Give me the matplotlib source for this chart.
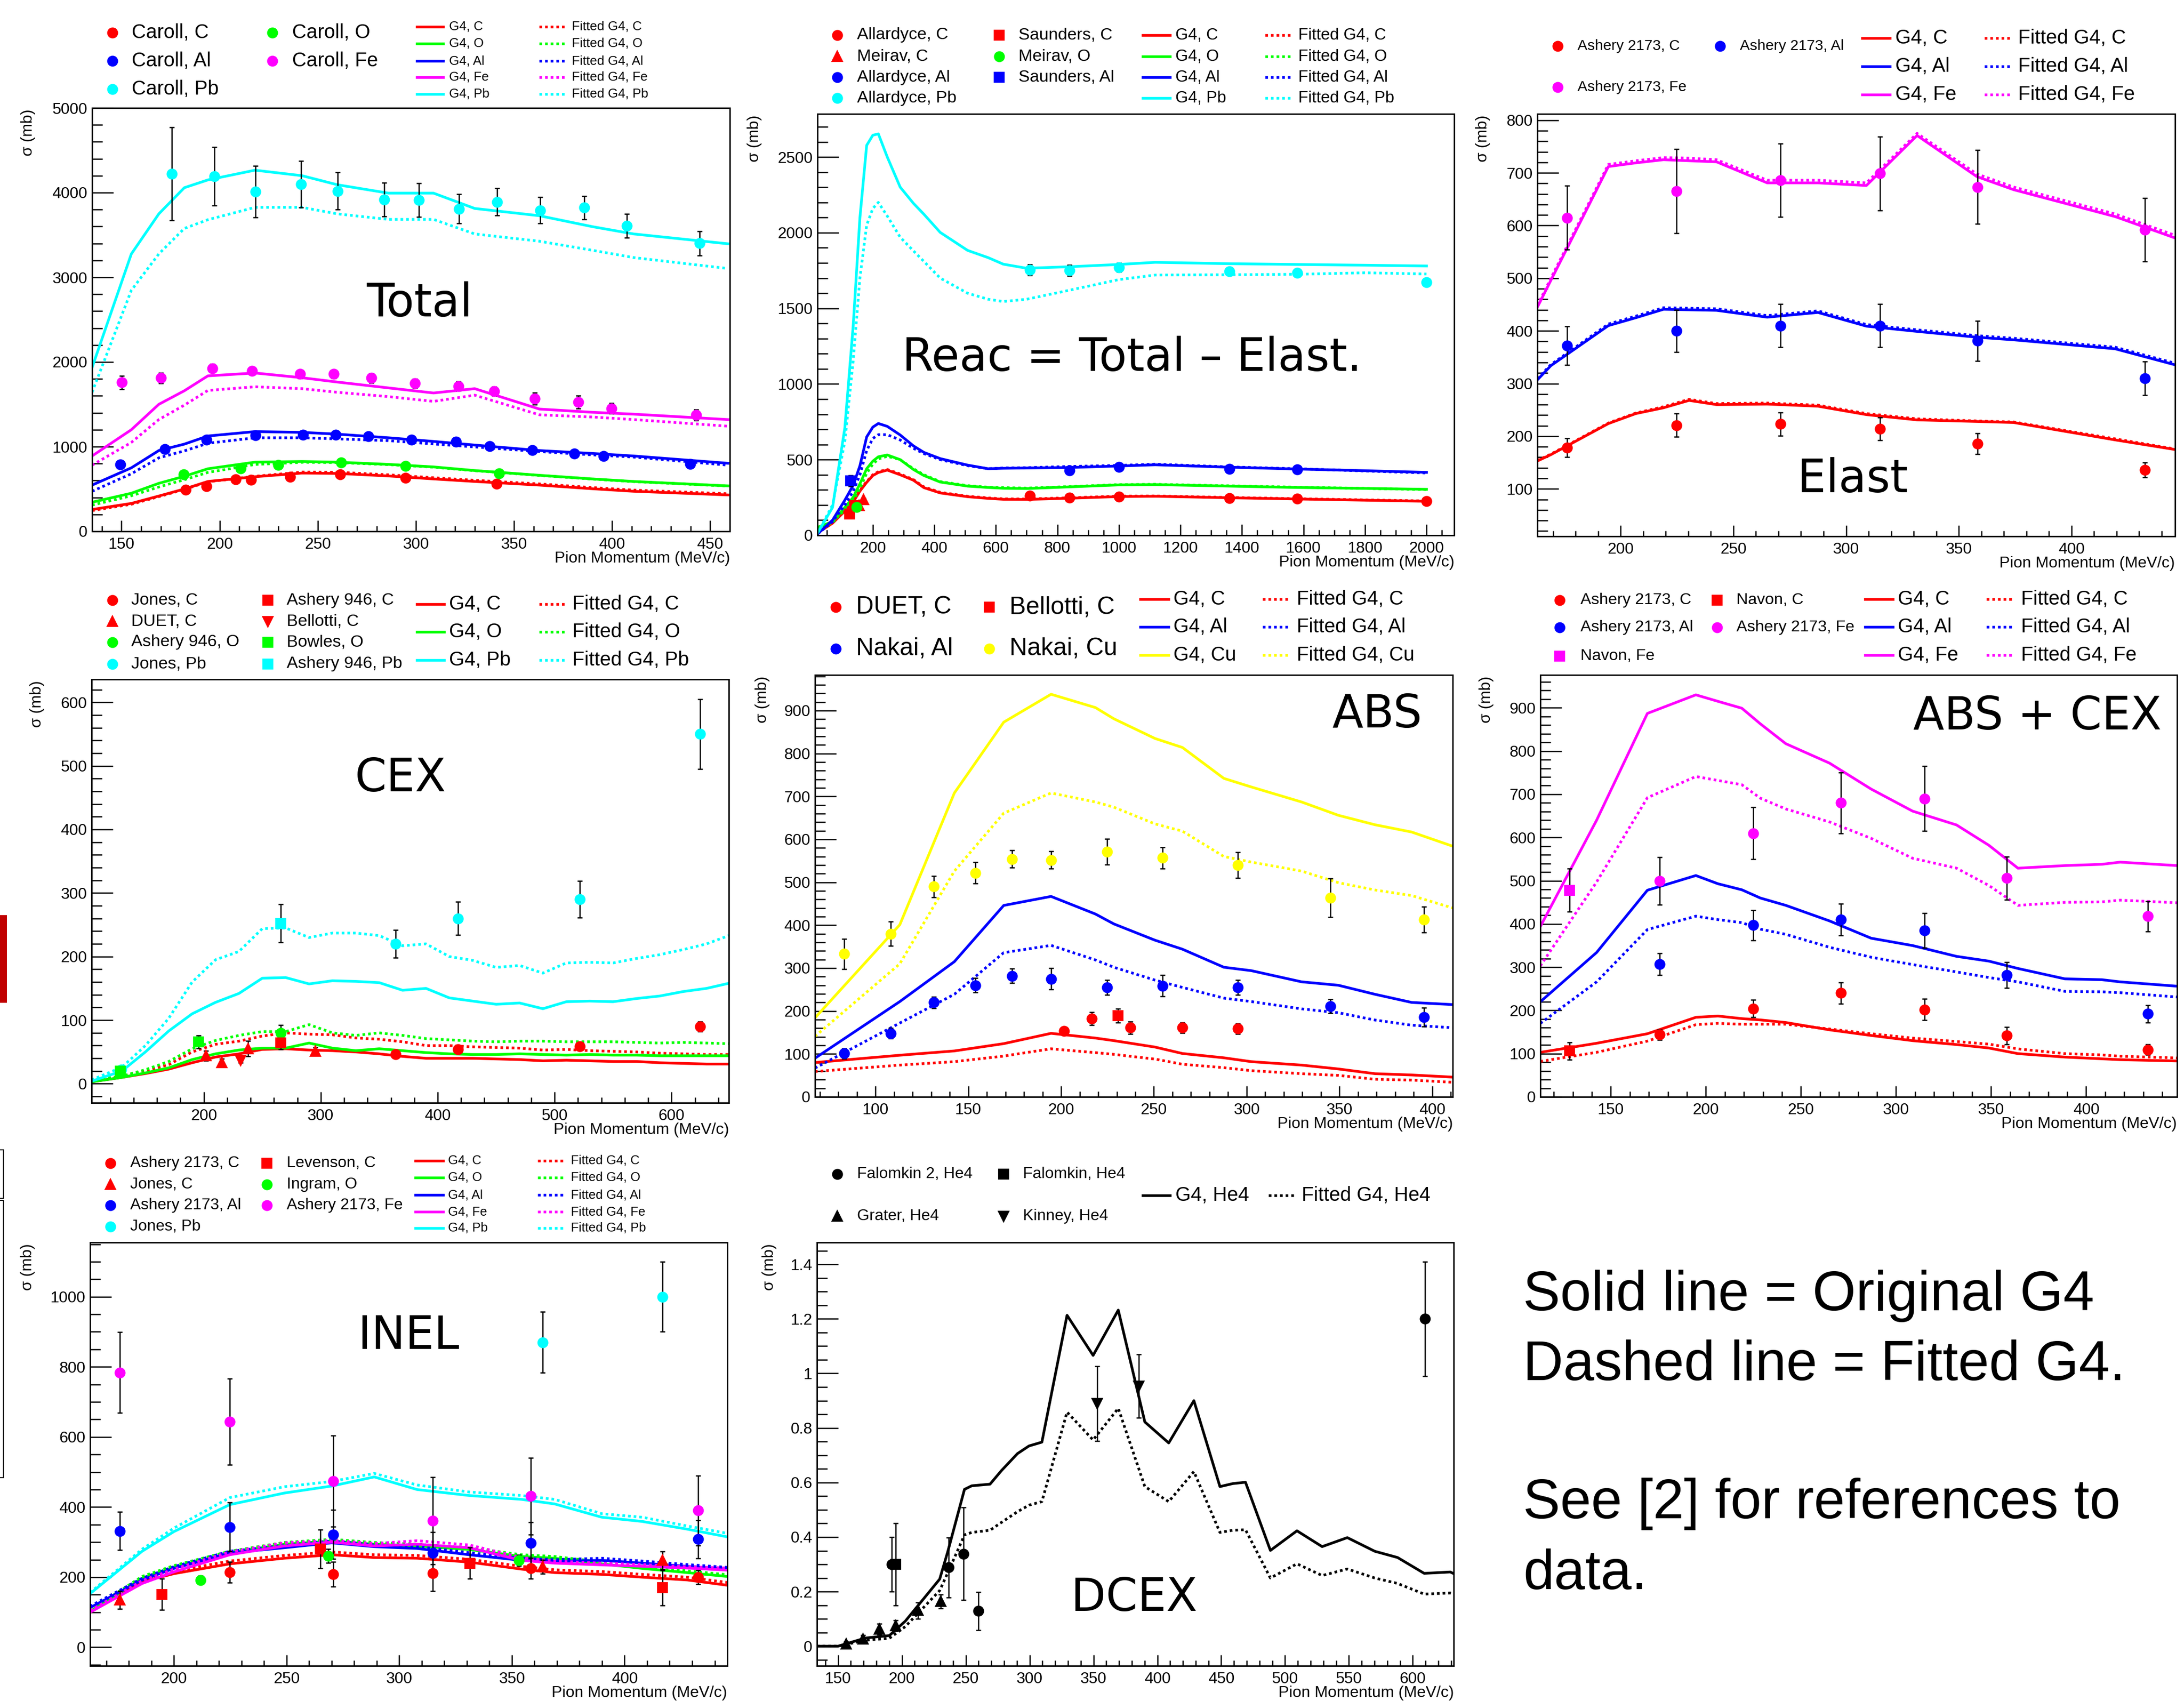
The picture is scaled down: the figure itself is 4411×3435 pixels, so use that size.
import matplotlib
matplotlib.use("Agg")
import matplotlib.pyplot as plt
from matplotlib.lines import Line2D
from matplotlib.patches import Rectangle
from matplotlib.ticker import MultipleLocator, FuncFormatter

W, H = 4411, 3435

RED, GREEN, BLUE = "#ff0000", "#00ff00", "#0000ff"
MAGENTA, CYAN, YELLOW, BLACK = "#ff00ff", "#00ffff", "#ffff00", "#000000"

# ---------------- Total ----------------
TOT_X = [135, 155, 169, 182, 194, 218, 242, 260, 286, 309, 330, 363, 390, 411, 459]
TOT_G4_C = [258, 330, 417, 500, 589, 645, 688, 684, 654, 619, 589, 546, 503, 473, 430]
TOT_FIT_C = [245, 320, 410, 495, 585, 650, 700, 698, 668, 633, 603, 560, 517, 487, 444]
TOT_G4_O = [344, 450, 567, 650, 739, 817, 825, 817, 791, 761, 718, 662, 619, 589, 537]
TOT_FIT_O = [310, 420, 524, 610, 696, 790, 815, 812, 788, 758, 716, 660, 617, 587, 535]
TOT_G4_AL = [546, 750, 954, 1030, 1126, 1178, 1169, 1148, 1105, 1062, 1019, 954, 920, 890, 804]
TOT_FIT_AL = [473, 680, 868, 950, 1040, 1105, 1105, 1092, 1071, 1032, 997, 942, 903, 877, 782]
TOT_G4_FE = [890, 1200, 1500, 1660, 1836, 1870, 1814, 1763, 1694, 1634, 1685, 1444, 1406, 1384, 1320]
TOT_FIT_FE = [782, 1050, 1320, 1490, 1664, 1707, 1685, 1642, 1591, 1535, 1608, 1376, 1350, 1320, 1242]
TOT_G4_PB = [1935, 3276, 3749, 4058, 4150, 4265, 4200, 4093, 3994, 3994, 3813, 3727, 3598, 3512, 3396]
TOT_FIT_PB = [1642, 2846, 3276, 3577, 3680, 3826, 3826, 3749, 3684, 3684, 3512, 3426, 3319, 3233, 3104]

CAROLL_C_X = [182.8, 193.2, 208.2, 216.1, 235.9, 261.5, 294.6, 341.2]
CAROLL_C_Y = [494, 533, 615, 606, 641, 675, 632, 563]
CAROLL_C_E = [15, 15, 15, 15, 15, 15, 15, 15]
CAROLL_O_X = [181.6, 210.8, 229.9, 262.0, 294.6, 342.4]
CAROLL_O_Y = [675, 744, 782, 813, 770, 684]
CAROLL_O_E = [15, 15, 15, 15, 15, 15]
CAROLL_AL_X = [149.5, 172.2, 193.4, 218.3, 242.4, 259.1, 275.8, 297.7, 320.4, 337.5, 359.3, 380.7, 395.7, 439.9]
CAROLL_AL_Y = [791, 972, 1083, 1135, 1139, 1139, 1122, 1083, 1058, 1006, 959, 916, 886, 795]
CAROLL_AL_E = [20] * 14
CAROLL_FE_X = [150.2, 170.0, 196.3, 216.4, 241.0, 258.1, 277.4, 299.4, 321.6, 340.0, 360.5, 382.7, 399.8, 442.8]
CAROLL_FE_Y = [1758, 1810, 1926, 1896, 1857, 1857, 1810, 1746, 1715, 1655, 1569, 1526, 1453, 1376]
CAROLL_FE_E = [80, 60, 50, 40, 50, 50, 55, 55, 55, 55, 70, 75, 60, 65]
CAROLL_PB_X = [175.6, 197.3, 218.3, 241.5, 260.1, 284.0, 301.6, 321.9, 341.4, 363.4, 385.8, 407.5, 444.7]
CAROLL_PB_Y = [4222, 4192, 4011, 4097, 4020, 3917, 3912, 3809, 3891, 3792, 3822, 3607, 3401]
CAROLL_PB_E = [550, 344, 305, 275, 220, 198, 198, 172, 160, 157, 137, 142, 142]

# ---------------- Reac ----------------
REAC_X = [21, 69, 109, 136, 158, 180, 200, 218, 247, 289, 332, 366, 419, 508, 575, 624, 700, 840,
          1000, 1118, 1360, 1580, 1800, 2000]
REAC_G4_C = [17, 80, 160, 220, 292, 350, 395, 415, 431, 400, 364, 315, 280, 255, 244, 238, 237, 245,
             256, 258, 248, 240, 232, 225]
REAC_FIT_C = [17, 82, 165, 225, 298, 355, 400, 420, 435, 405, 368, 320, 284, 258, 247, 241, 240, 248,
              259, 260, 250, 242, 234, 227]
REAC_G4_O = [53, 90, 184, 250, 340, 440, 490, 519, 531, 500, 435, 395, 352, 325, 316, 311, 309, 320,
             333, 335, 325, 316, 310, 304]
REAC_FIT_O = [40, 85, 170, 230, 310, 410, 470, 505, 522, 500, 440, 400, 355, 328, 318, 315, 312, 322,
              335, 337, 327, 318, 310, 302]
REAC_G4_AL = [10, 100, 232, 330, 459, 650, 715, 739, 720, 663, 591, 548, 507, 464, 440, 443, 445, 448,
              458, 466, 450, 438, 427, 416]
REAC_FIT_AL = [10, 90, 200, 290, 400, 560, 640, 665, 665, 630, 575, 540, 500, 460, 440, 445, 447, 455,
               462, 470, 452, 440, 425, 412]
REAC_G4_PB = [17, 184, 710, 1380, 2098, 2577, 2644, 2653, 2500, 2301, 2194, 2122, 2002, 1883, 1835, 1792,
              1765, 1775, 1790, 1804, 1795, 1790, 1785, 1780]
REAC_FIT_PB = [17, 200, 620, 1150, 1700, 2050, 2160, 2200, 2110, 1970, 1880, 1810, 1700, 1600, 1560, 1545,
               1560, 1620, 1690, 1720, 1722, 1725, 1735, 1727]

ALLARDYCE_C_X = [711, 840, 1000, 1360, 1580, 2000]
ALLARDYCE_C_Y = [263, 249, 256, 246, 242, 225]
ALLARDYCE_C_E = [8, 8, 8, 8, 8, 8]
MEIRAV_C_X = [155, 170]
MEIRAV_C_Y = [196, 237]
MEIRAV_C_E = [10, 10]
ALLARDYCE_AL_X = [840, 1000, 1360, 1580]
ALLARDYCE_AL_Y = [428, 452, 440, 435]
ALLARDYCE_AL_E = [10, 10, 10, 10]
ALLARDYCE_PB_X = [711, 840, 1000, 1360, 1580, 2000]
ALLARDYCE_PB_Y = [1754, 1751, 1770, 1744, 1734, 1672]
ALLARDYCE_PB_E = [35, 35, 30, 10, 10, 10]
SAUNDERS_C_X = [124, 140]
SAUNDERS_C_Y = [141, 196]
SAUNDERS_C_E = [10, 10]
MEIRAV_O_X = [147]
MEIRAV_O_Y = [185]
MEIRAV_O_E = [10]
SAUNDERS_AL_X = [128]
SAUNDERS_AL_Y = [359]
SAUNDERS_AL_E = [36]

# ---------------- Elast ----------------
ELA_X = [163, 169, 194.5, 206.7, 219, 230.3, 242.5, 265, 287.5, 309, 331.5, 358, 374.4, 419.4, 445.6]
ELA_G4_C = [153, 165, 224, 243, 254, 268, 260, 261, 257, 241, 231, 228, 226, 193, 175]
ELA_FIT_C = [154, 166, 225, 244, 256, 270, 262, 263, 259, 243, 233, 229, 227, 195, 176]
ELA_G4_AL = [307, 334, 410, 425, 441, 440, 439, 426, 435, 409, 399, 388, 383, 366, 336]
ELA_FIT_AL = [309, 336, 413, 428, 444, 443, 442, 429, 438, 412, 402, 391, 386, 369, 339]
ELA_G4_FE = [445, 496, 712, 719, 725, 723, 721, 681, 681, 676, 771, 693, 668, 617, 577]
ELA_FIT_FE = [448, 500, 716, 723, 729, 728, 725, 686, 686, 681, 775, 698, 673, 622, 582]

ASH_ELA_X = [176.1, 224.7, 270.8, 315.1, 358.3, 432.5]
ASH_ELA_C_Y = [178, 221, 223, 214, 186, 136]
ASH_ELA_C_E = [18, 22, 22, 22, 20, 14]
ASH_ELA_AL_Y = [372, 400, 410, 410, 381, 310]
ASH_ELA_AL_E = [37, 40, 41, 41, 38, 32]
ASH_ELA_FE_Y = [615, 665, 686, 699, 673, 592]
ASH_ELA_FE_E = [61, 80, 70, 70, 70, 60]

# ---------------- CEX ----------------
CEX_X = [104, 130, 150, 170, 190, 210, 230, 250, 270, 290, 310, 330, 350, 370, 390, 410, 430, 450,
         470, 490, 510, 530, 550, 570, 590, 610, 630, 649]
CEX_G4_C = [3, 10, 16, 23, 33, 42, 47, 54, 55, 53, 52, 50, 47, 43, 40, 40, 40, 39, 38, 36, 37, 36,
            35, 35, 33, 32, 31, 31]
CEX_FIT_C = [5, 12, 20, 30, 50, 62, 67, 75, 80, 78, 77, 72, 70, 66, 60, 60, 58, 57, 56, 53, 54, 52,
             51, 50, 48, 47, 46, 46]
CEX_G4_O = [3, 10, 17, 25, 38, 47, 53, 56, 56, 64, 56, 52, 55, 52, 49, 47, 46, 46, 47, 46, 45, 46,
            45, 45, 44, 44, 44, 44]
CEX_FIT_O = [5, 12, 22, 35, 55, 68, 76, 82, 82, 93, 80, 76, 80, 76, 71, 69, 67, 66, 67, 67, 66, 66,
             66, 65, 64, 65, 64, 63]
CEX_G4_PB = [4, 20, 50, 83, 110, 128, 142, 166, 167, 157, 162, 161, 159, 147, 150, 135, 130, 125,
             127, 118, 129, 130, 129, 134, 138, 145, 150, 158]
CEX_FIT_PB = [6, 26, 60, 103, 160, 195, 208, 244, 245, 230, 237, 237, 233, 217, 220, 200, 194, 183,
              186, 174, 190, 191, 190, 197, 203, 211, 220, 233]

JONES_C_X = [364.1, 417.2, 521.4, 624.3]
JONES_C_Y = [46, 54, 59, 90]
JONES_C_E = [4, 4, 4, 8]
DUET_C_X = [202.0, 215.4, 237.7, 295.6]
DUET_C_Y = [44, 33, 55, 51]
DUET_C_E = [8, 6, 12, 6]
ASH946_O_X = [265.7]
ASH946_O_Y = [80]
ASH946_O_E = [12]
JONES_PB_X = [129.5, 364.1, 417.2, 521.4, 624.3]
JONES_PB_Y = [22, 220, 260, 290, 550]
JONES_PB_E = [3, 22, 26, 29, 55]
ASH946_C_X = [265.7]
ASH946_C_Y = [64]
ASH946_C_E = [10]
BELLOTTI_C_X = [231.6]
BELLOTTI_C_Y = [37]
BELLOTTI_C_E = [4]
BOWLES_O_X = [128.5, 195.5]
BOWLES_O_Y = [20, 66]
BOWLES_O_E = [4, 10]
ASH946_PB_X = [265.7]
ASH946_PB_Y = [252]
ASH946_PB_E = [30]

# ---------------- ABS ----------------
ABS_X = [67.4, 113.1, 142.5, 169.1, 194.6, 218.5, 228.4, 250.6, 265.4, 287.7, 302.5, 329.6, 349.4,
         369.1, 388.9, 411]
ABS_G4_C = [80, 97, 107, 124, 148, 137, 131, 116, 101, 91, 82, 74, 65, 54, 51, 46]
ABS_FIT_C = [59, 74, 82, 95, 112, 103, 99, 88, 76, 68, 61, 54, 50, 41, 39, 34]
ABS_G4_AL = [90, 222, 315, 446, 467, 426, 403, 365, 344, 302, 294, 268, 260, 239, 220, 215]
ABS_FIT_AL = [67, 172, 239, 336, 353, 319, 302, 272, 255, 230, 222, 205, 196, 179, 167, 161]
ABS_G4_CU = [184, 401, 708, 873, 938, 907, 881, 835, 814, 742, 722, 687, 656, 634, 617, 584]
ABS_FIT_CU = [141, 310, 526, 661, 708, 687, 675, 636, 619, 560, 547, 526, 499, 482, 469, 440]

DUET_ABS_C_X = [201.5, 216.5, 237.3, 265.4, 295.1]
DUET_ABS_C_Y = [153, 182, 161, 161, 159]
DUET_ABS_C_E = [8, 15, 14, 12, 12]
BELLOTTI_ABS_C_X = [230.6]
BELLOTTI_ABS_C_Y = [189]
BELLOTTI_ABS_C_E = [16]
NAKAI_X = [83.2, 108.1, 131.4, 153.8, 173.6, 194.6, 224.7, 254.6, 295.1, 345.2, 395.6]
NAKAI_AL_Y = [101, 148, 220, 260, 282, 275, 255, 259, 255, 211, 186]
NAKAI_AL_E = [12, 12, 13, 17, 17, 25, 17, 25, 17, 16, 22]
NAKAI_CU_Y = [333, 380, 490, 522, 554, 552, 571, 557, 540, 464, 413]
NAKAI_CU_E = [35, 28, 25, 25, 20, 20, 30, 25, 30, 45, 30]

# ---------------- ABS + CEX ----------------
AC_X = [112.9, 142.5, 169.2, 194.7, 206.3, 218.9, 228.6, 242.0, 265.0, 286.9, 308.7, 331.8, 348.8,
        364.1, 388.8, 408.3, 417.9, 447.8]
AC_G4_C = [103, 124, 146, 184, 187, 181, 178, 172, 155, 142, 130, 121, 113, 100, 92, 88, 86, 83]
AC_FIT_C = [82, 103, 129, 167, 170, 168, 168, 168, 157, 146, 136, 128, 122, 111, 100, 97, 94, 90]
AC_G4_AL = [220, 334, 478, 512, 493, 479, 460, 443, 407, 367, 350, 325, 314, 297, 273, 271, 266, 256]
AC_FIT_AL = [170, 266, 387, 418, 410, 403, 388, 376, 346, 323, 306, 289, 276, 266, 244, 243, 241, 231]
AC_G4_FE = [394, 640, 887, 930, 915, 899, 863, 817, 772, 712, 661, 629, 582, 529, 535, 538, 543, 535]
AC_FIT_FE = [303, 497, 692, 741, 732, 722, 691, 666, 636, 598, 552, 529, 489, 443, 450, 451, 455, 449]

ASH_AC_X = [175.7, 224.8, 270.9, 315.0, 358.3, 432.5]
ASH_AC_C_Y = [144, 204, 240, 202, 142, 109]
ASH_AC_C_E = [12, 20, 25, 25, 20, 12]
ASH_AC_AL_Y = [307, 397, 410, 385, 282, 192]
ASH_AC_AL_E = [25, 35, 37, 40, 30, 20]
ASH_AC_FE_Y = [500, 610, 680, 690, 506, 418]
ASH_AC_FE_E = [55, 60, 70, 75, 50, 35]
NAVON_X = [128.2]
NAVON_C_Y = [106]
NAVON_C_E = [20]
NAVON_FE_Y = [478]
NAVON_FE_E = [50]

# ---------------- INEL ----------------
IN_X = [162.8, 185.9, 200, 224.8, 249, 270, 288.9, 307.9, 331, 354.2, 368.9, 389.9, 407.8, 427.8, 445.6]
IN_G4_C = [100, 187, 210, 238, 254, 264, 256, 254, 243, 223, 213, 208, 200, 192, 177]
IN_FIT_C = [104, 193, 217, 246, 262, 272, 264, 262, 251, 231, 221, 216, 208, 200, 185]
IN_G4_O = [102, 197, 228, 269, 294, 303, 294, 289, 279, 259, 254, 238, 225, 213, 202]
IN_FIT_O = [106, 202, 233, 274, 299, 308, 299, 294, 284, 264, 259, 243, 230, 218, 207]
IN_G4_AL = [113, 192, 225, 269, 284, 298, 287, 282, 264, 248, 245, 248, 240, 231, 223]
IN_FIT_AL = [117, 197, 230, 274, 290, 303, 292, 287, 270, 254, 250, 254, 246, 236, 228]
IN_G4_FE = [100, 182, 215, 264, 289, 300, 289, 294, 284, 248, 240, 235, 231, 226, 220]
IN_FIT_FE = [105, 190, 223, 272, 298, 305, 296, 304, 292, 256, 246, 240, 236, 230, 226]
IN_G4_PB = [153, 274, 330, 407, 440, 460, 486, 450, 433, 422, 409, 371, 359, 337, 315]
IN_FIT_PB = [156, 280, 340, 427, 458, 473, 496, 463, 443, 433, 422, 381, 371, 346, 325]

ASH_IN_X = [176.0, 224.8, 270.7, 314.8, 358.4, 432.6]
ASH_IN_C_X = [224.8, 270.7, 314.8, 358.4, 432.6]
ASH_IN_C_Y = [214, 208, 211, 225, 200]
ASH_IN_C_E = [30, 35, 50, 30, 20]
JONES_IN_C_X = [176.0, 363.6, 416.8]
JONES_IN_C_Y = [135, 230, 248]
JONES_IN_C_E = [25, 20, 25]
ASH_IN_AL_Y = [332, 343, 322, 269, 297, 308]
ASH_IN_AL_E = [55, 70, 70, 60, 60, 55]
JONES_IN_PB_X = [363.6, 416.8]
JONES_IN_PB_Y = [870, 1000]
JONES_IN_PB_E = [87, 100]
LEVENSON_C_X = [194.7, 265.0, 331.4, 416.8]
LEVENSON_C_Y = [151, 281, 240, 170]
LEVENSON_C_E = [45, 55, 45, 50]
INGRAM_O_X = [211.8, 268.6, 353.1]
INGRAM_O_Y = [192, 261, 248]
INGRAM_O_E = [12, 20, 15]
ASH_IN_FE_Y = [784, 644, 474, 361, 431, 390]
ASH_IN_FE_E = [115, 123, 130, 125, 110, 100]

# ---------------- DCEX ----------------
DC_X = [133.5, 150, 171.5, 190.2, 202.7, 229.6, 236, 249, 254.7, 269, 278, 290.5, 299.5, 309.6, 329.3,
        349.7, 369.4, 390.2, 408.9, 428.6, 449, 459, 469, 488.5, 509.3, 529, 548.7, 570.2, 588.1,
        608.9, 629.4, 632]
DC_G4 = [0, 0, 0.030, 0.039, 0.092, 0.246, 0.348, 0.575, 0.588, 0.594, 0.644, 0.706, 0.734, 0.748,
         1.213, 1.066, 1.232, 0.822, 0.745, 0.900, 0.585, 0.596, 0.601, 0.351, 0.423, 0.365, 0.398,
         0.348, 0.325, 0.267, 0.272, 0.266]
DC_FIT = [0, 0, 0.022, 0.029, 0.072, 0.204, 0.270, 0.408, 0.417, 0.425, 0.454, 0.493, 0.517, 0.530,
          0.858, 0.756, 0.872, 0.585, 0.530, 0.640, 0.417, 0.425, 0.427, 0.250, 0.302, 0.259, 0.283,
          0.250, 0.230, 0.191, 0.195, 0.193]

FALOMKIN2_X = [192.0, 236.8, 248.2, 259.7, 609.7]
FALOMKIN2_Y = [0.30, 0.289, 0.339, 0.129, 1.20]
FALOMKIN2_E = [0.10, 0.11, 0.17, 0.07, 0.21]
FALOMKIN_X = [195.2]
FALOMKIN_Y = [0.30]
FALOMKIN_E = [0.15]
GRATER_X = [156.5, 169.4, 182.3, 195.2, 212.7, 230.3]
GRATER_Y = [0.007, 0.026, 0.062, 0.075, 0.131, 0.164]
GRATER_E = [0.01, 0.015, 0.02, 0.02, 0.03, 0.025]
KINNEY_X = [352.9, 385.6]
KINNEY_Y = [0.89, 0.953]
KINNEY_E = [0.137, 0.116]

NOTE_LINES = ["Solid line = Original G4", "Dashed line = Fitted G4.", "See [2] for references to", "data."]

LW = 1.3
DOT = (0, (1, 1.1))
MS = 4.3


def fx(p):
    return p / W


def fy(p):
    return 1 - p / H


def make_axes(fig, box, xlim, ylim, xt, yt, ylab_dx):
    left, top, right, bottom = box
    ax = fig.add_axes([fx(left), fy(bottom), (right - left) / W, (bottom - top) / H])
    ax.set_xlim(*xlim)
    ax.set_ylim(*ylim)
    ax.xaxis.set_major_locator(MultipleLocator(xt[0]))
    ax.xaxis.set_minor_locator(MultipleLocator(xt[1]))
    ax.yaxis.set_major_locator(MultipleLocator(yt[0]))
    ax.yaxis.set_minor_locator(MultipleLocator(yt[1]))
    fmt = FuncFormatter(lambda v, p: f"{v:g}")
    ax.xaxis.set_major_formatter(fmt)
    ax.yaxis.set_major_formatter(fmt)
    ax.tick_params(which="both", direction="in", top=False, right=False, labelsize=7.7, width=0.6)
    ax.tick_params(axis="y", which="major", length=10.3, pad=2.2)
    ax.tick_params(axis="y", which="minor", length=5.0)
    ax.tick_params(axis="x", which="major", length=5.3, pad=2.8)
    ax.tick_params(axis="x", which="minor", length=2.7)
    for s in ax.spines.values():
        s.set_linewidth(0.7)
    fig.text(fx(right), fy(bottom + 40), "Pion Momentum (MeV/c)", ha="right", va="top", fontsize=7.7)
    fig.text(fx(left + ylab_dx), fy(top + 2), "σ (mb)", rotation=90, ha="center", va="top",
             fontsize=7.7)
    return ax


def draw_models(ax, x, models):
    for name, color, g4, fit in models:
        ax.plot(x, g4, color=color, lw=LW, zorder=2)
        ax.plot(x, fit, color=color, lw=LW, ls=DOT, zorder=2)


def draw_points(ax, points):
    for label, x, y, e, color, marker, col, row in points:
        ax.errorbar(x, y, yerr=e, fmt=marker, color=color, mec=color, ms=MS, ecolor="k",
                    elinewidth=0.6, capsize=1.3, capthick=0.6, zorder=3)


def model_legend(fig, models, hx, tx, rows, size, single_row=False):
    for i, (name, color, g4, fit) in enumerate(models):
        for col, (ls, pre) in enumerate((("-", "G4, "), (DOT, "Fitted G4, "))):
            y = fy(rows[0] if single_row else rows[i])
            fig.add_artist(Line2D([fx(hx[col][0]), fx(hx[col][1])], [y, y], color=color, lw=LW, ls=ls))
            fig.text(fx(tx[col]), y, pre + name, fontsize=size, va="center", ha="left")


def point_legend(fig, points, mx, tx, rows, size):
    for label, x, y, e, color, marker, col, row in points:
        fig.add_artist(Line2D([fx(mx[col])], [fy(rows[row])], marker=marker, color=color, mec=color,
                              ms=MS, ls="none"))
        fig.text(fx(tx[col]), fy(rows[row]), label, fontsize=size, va="center", ha="left")


def big_label(fig, xy, text):
    fig.text(fx(xy[0]), fy(xy[1]), text, fontsize=22, ha="center", va="center", family="DejaVu Sans")


def main():
    plt.rcParams["font.family"] = ["Liberation Sans", "DejaVu Sans"]
    fig = plt.figure(figsize=(W / 300, H / 300), dpi=300)

    # Total
    ax = make_axes(fig, (186, 218, 1474, 1073), (135, 460), (0, 5000), (50, 10), (1000, 200), -129)
    models = [("C", RED, TOT_G4_C, TOT_FIT_C), ("O", GREEN, TOT_G4_O, TOT_FIT_O),
              ("Al", BLUE, TOT_G4_AL, TOT_FIT_AL), ("Fe", MAGENTA, TOT_G4_FE, TOT_FIT_FE),
              ("Pb", CYAN, TOT_G4_PB, TOT_FIT_PB)]
    points = [("Caroll, C", CAROLL_C_X, CAROLL_C_Y, CAROLL_C_E, RED, "o", 0, 0),
              ("Caroll, Al", CAROLL_AL_X, CAROLL_AL_Y, CAROLL_AL_E, BLUE, "o", 0, 1),
              ("Caroll, Pb", CAROLL_PB_X, CAROLL_PB_Y, CAROLL_PB_E, CYAN, "o", 0, 2),
              ("Caroll, O", CAROLL_O_X, CAROLL_O_Y, CAROLL_O_E, GREEN, "o", 1, 0),
              ("Caroll, Fe", CAROLL_FE_X, CAROLL_FE_Y, CAROLL_FE_E, MAGENTA, "o", 1, 1)]
    draw_models(ax, TOT_X, models)
    draw_points(ax, points)
    point_legend(fig, points, (227, 550), (266, 590), (66, 123, 180), 9.6)
    model_legend(fig, models, ((842, 895), (1089, 1143)), (907, 1155), (54, 88, 123, 156, 190), 6.3)
    big_label(fig, (847, 613), "Total")

    # Reac
    ax = make_axes(fig, (1651, 230, 2937, 1081), (20, 2090), (0, 2785), (200, 50), (500, 100), -127)
    models = [("C", RED, REAC_G4_C, REAC_FIT_C), ("O", GREEN, REAC_G4_O, REAC_FIT_O),
              ("Al", BLUE, REAC_G4_AL, REAC_FIT_AL), ("Pb", CYAN, REAC_G4_PB, REAC_FIT_PB)]
    points = [("Allardyce, C", ALLARDYCE_C_X, ALLARDYCE_C_Y, ALLARDYCE_C_E, RED, "o", 0, 0),
              ("Meirav, C", MEIRAV_C_X, MEIRAV_C_Y, MEIRAV_C_E, RED, "^", 0, 1),
              ("Allardyce, Al", ALLARDYCE_AL_X, ALLARDYCE_AL_Y, ALLARDYCE_AL_E, BLUE, "o", 0, 2),
              ("Allardyce, Pb", ALLARDYCE_PB_X, ALLARDYCE_PB_Y, ALLARDYCE_PB_E, CYAN, "o", 0, 3),
              ("Saunders, C", SAUNDERS_C_X, SAUNDERS_C_Y, SAUNDERS_C_E, RED, "s", 1, 0),
              ("Meirav, O", MEIRAV_O_X, MEIRAV_O_Y, MEIRAV_O_E, GREEN, "o", 1, 1),
              ("Saunders, Al", SAUNDERS_AL_X, SAUNDERS_AL_Y, SAUNDERS_AL_E, BLUE, "s", 1, 2)]
    draw_models(ax, REAC_X, models)
    draw_points(ax, points)
    point_legend(fig, points, (1691, 2018), (1731, 2057), (71, 114, 156, 198), 8.2)
    model_legend(fig, models, ((2308, 2363), (2555, 2608)), (2374, 2622), (71, 114, 156, 198), 7.9)
    big_label(fig, (2286, 723), "Reac = Total – Elast.")

    # Elast
    ax = make_axes(fig, (3105, 230, 4393, 1083), (163, 446), (10, 812), (50, 10), (100, 20), -110)
    models = [("C", RED, ELA_G4_C, ELA_FIT_C), ("Al", BLUE, ELA_G4_AL, ELA_FIT_AL),
              ("Fe", MAGENTA, ELA_G4_FE, ELA_FIT_FE)]
    points = [("Ashery 2173, C", ASH_ELA_X, ASH_ELA_C_Y, ASH_ELA_C_E, RED, "o", 0, 0),
              ("Ashery 2173, Fe", ASH_ELA_X, ASH_ELA_FE_Y, ASH_ELA_FE_E, MAGENTA, "o", 0, 1),
              ("Ashery 2173, Al", ASH_ELA_X, ASH_ELA_AL_Y, ASH_ELA_AL_E, BLUE, "o", 1, 0)]
    draw_models(ax, ELA_X, models)
    draw_points(ax, points)
    point_legend(fig, points, (3146, 3474), (3186, 3514), (93, 176), 7.2)
    model_legend(fig, models, ((3761, 3817), (4008, 4062)), (3828, 4076), (77, 134, 191), 9.7)
    big_label(fig, (3742, 968), "Elast")

    # CEX
    ax = make_axes(fig, (185, 1372, 1472, 2227), (104, 649), (-30, 636), (100, 20), (100, 20), -110)
    models = [("C", RED, CEX_G4_C, CEX_FIT_C), ("O", GREEN, CEX_G4_O, CEX_FIT_O),
              ("Pb", CYAN, CEX_G4_PB, CEX_FIT_PB)]
    points = [("Jones, C", JONES_C_X, JONES_C_Y, JONES_C_E, RED, "o", 0, 0),
              ("DUET, C", DUET_C_X, DUET_C_Y, DUET_C_E, RED, "^", 0, 1),
              ("Ashery 946, O", ASH946_O_X, ASH946_O_Y, ASH946_O_E, GREEN, "o", 0, 2),
              ("Jones, Pb", JONES_PB_X, JONES_PB_Y, JONES_PB_E, CYAN, "o", 0, 3),
              ("Ashery 946, C", ASH946_C_X, ASH946_C_Y, ASH946_C_E, RED, "s", 1, 0),
              ("Bellotti, C", BELLOTTI_C_X, BELLOTTI_C_Y, BELLOTTI_C_E, RED, "v", 1, 1),
              ("Bowles, O", BOWLES_O_X, BOWLES_O_Y, BOWLES_O_E, GREEN, "s", 1, 2),
              ("Ashery 946, Pb", ASH946_PB_X, ASH946_PB_Y, ASH946_PB_E, CYAN, "s", 1, 3)]
    draw_models(ax, CEX_X, models)
    draw_points(ax, points)
    point_legend(fig, points, (227, 541), (265, 579), (1212, 1255, 1297, 1341), 8.2)
    model_legend(fig, models, ((842, 897), (1089, 1144)), (907, 1156), (1220, 1276, 1333), 9.6)
    big_label(fig, (809, 1572), "CEX")

    # ABS
    ax = make_axes(fig, (1646, 1363, 2934, 2215), (67.4, 411), (0, 983), (50, 10), (100, 20), -106)
    models = [("C", RED, ABS_G4_C, ABS_FIT_C), ("Al", BLUE, ABS_G4_AL, ABS_FIT_AL),
              ("Cu", YELLOW, ABS_G4_CU, ABS_FIT_CU)]
    points = [("DUET, C", DUET_ABS_C_X, DUET_ABS_C_Y, DUET_ABS_C_E, RED, "o", 0, 0),
              ("Nakai, Al", NAKAI_X, NAKAI_AL_Y, NAKAI_AL_E, BLUE, "o", 0, 1),
              ("Bellotti, C", BELLOTTI_ABS_C_X, BELLOTTI_ABS_C_Y, BELLOTTI_ABS_C_E, RED, "s", 1, 0),
              ("Nakai, Cu", NAKAI_X, NAKAI_CU_Y, NAKAI_CU_E, YELLOW, "o", 1, 1)]
    draw_models(ax, ABS_X, models)
    draw_points(ax, points)
    point_legend(fig, points, (1688, 1998), (1729, 2039), (1226, 1310), 11.9)
    model_legend(fig, models, ((2303, 2360), (2550, 2605)), (2370, 2619), (1210, 1266, 1323), 9.6)
    big_label(fig, (2781, 1443), "ABS")

    # ABS + CEX
    ax = make_axes(fig, (3111, 1363, 4397, 2215), (112.9, 447.8), (0, 976), (50, 10), (100, 20), -109)
    models = [("C", RED, AC_G4_C, AC_FIT_C), ("Al", BLUE, AC_G4_AL, AC_FIT_AL),
              ("Fe", MAGENTA, AC_G4_FE, AC_FIT_FE)]
    points = [("Ashery 2173, C", ASH_AC_X, ASH_AC_C_Y, ASH_AC_C_E, RED, "o", 0, 0),
              ("Ashery 2173, Al", ASH_AC_X, ASH_AC_AL_Y, ASH_AC_AL_E, BLUE, "o", 0, 1),
              ("Navon, Fe", NAVON_X, NAVON_FE_Y, NAVON_FE_E, MAGENTA, "s", 0, 2),
              ("Navon, C", NAVON_X, NAVON_C_Y, NAVON_C_E, RED, "s", 1, 0),
              ("Ashery 2173, Fe", ASH_AC_X, ASH_AC_FE_Y, ASH_AC_FE_E, MAGENTA, "o", 1, 1)]
    draw_models(ax, AC_X, models)
    draw_points(ax, points)
    point_legend(fig, points, (3150, 3468), (3192, 3507), (1212, 1267, 1325), 7.8)
    model_legend(fig, models, ((3767, 3823), (4012, 4066)), (3833, 4082), (1210, 1266, 1323), 9.6)
    big_label(fig, (4115, 1447), "ABS + CEX")

    # INEL
    ax = make_axes(fig, (182, 2509, 1469, 3364), (162.8, 445.6), (-53, 1155), (50, 10), (200, 50), -126)
    models = [("C", RED, IN_G4_C, IN_FIT_C), ("O", GREEN, IN_G4_O, IN_FIT_O),
              ("Al", BLUE, IN_G4_AL, IN_FIT_AL), ("Fe", MAGENTA, IN_G4_FE, IN_FIT_FE),
              ("Pb", CYAN, IN_G4_PB, IN_FIT_PB)]
    points = [("Ashery 2173, C", ASH_IN_C_X, ASH_IN_C_Y, ASH_IN_C_E, RED, "o", 0, 0),
              ("Jones, C", JONES_IN_C_X, JONES_IN_C_Y, JONES_IN_C_E, RED, "^", 0, 1),
              ("Ashery 2173, Al", ASH_IN_X, ASH_IN_AL_Y, ASH_IN_AL_E, BLUE, "o", 0, 2),
              ("Jones, Pb", JONES_IN_PB_X, JONES_IN_PB_Y, JONES_IN_PB_E, CYAN, "o", 0, 3),
              ("Levenson, C", LEVENSON_C_X, LEVENSON_C_Y, LEVENSON_C_E, RED, "s", 1, 0),
              ("Ingram, O", INGRAM_O_X, INGRAM_O_Y, INGRAM_O_E, GREEN, "o", 1, 1),
              ("Ashery 2173, Fe", ASH_IN_X, ASH_IN_FE_Y, ASH_IN_FE_E, MAGENTA, "o", 1, 2)]
    draw_models(ax, IN_X, models)
    draw_points(ax, points)
    point_legend(fig, points, (223, 539), (263, 579), (2349, 2392, 2434, 2477), 7.7)
    model_legend(fig, models, ((839, 895), (1086, 1141)), (905, 1153), (2344, 2378, 2413, 2447, 2480), 6.2)
    big_label(fig, (825, 2698), "INEL")

    # DCEX
    ax = make_axes(fig, (1650, 2509, 2936, 3364), (133.5, 632), (-0.072, 1.48), (50, 10), (0.2, 0.05), -96)
    models = [("He4", BLACK, DC_G4, DC_FIT)]
    points = [("Falomkin 2, He4", FALOMKIN2_X, FALOMKIN2_Y, FALOMKIN2_E, BLACK, "o", 0, 0),
              ("Grater, He4", GRATER_X, GRATER_Y, GRATER_E, BLACK, "^", 0, 1),
              ("Falomkin, He4", FALOMKIN_X, FALOMKIN_Y, FALOMKIN_E, BLACK, "s", 1, 0),
              ("Kinney, He4", KINNEY_X, KINNEY_Y, KINNEY_E, BLACK, "v", 1, 1)]
    draw_models(ax, DC_X, models)
    draw_points(ax, points)
    point_legend(fig, points, (1691, 2027), (1731, 2066), (2371, 2456), 7.7)
    model_legend(fig, models, ((2308, 2363), (2562, 2615)), (2374, 2629), (2414,), 9.6, single_row=True)
    big_label(fig, (2291, 3227), "DCEX")

    # note text
    for text, base in zip(NOTE_LINES, (2646, 2787, 3066, 3209)):
        fig.text(fx(3076), fy(base), text, fontsize=27, ha="left", va="baseline")

    # slide leftovers at the left edge
    fig.add_artist(Rectangle((0, fy(2025)), fx(14), (2025 - 1848) / H, color="#c00000", lw=0))
    fig.add_artist(Rectangle((fx(-5), fy(2420)), fx(12), (2420 - 2322) / H, fill=False, ec="k", lw=0.5))
    fig.add_artist(Rectangle((fx(-5), fy(2984)), fx(12), (2984 - 2424) / H, fill=False, ec="k", lw=0.5))

    fig.savefig("out.png", dpi=300)


if __name__ == "__main__":
    main()
